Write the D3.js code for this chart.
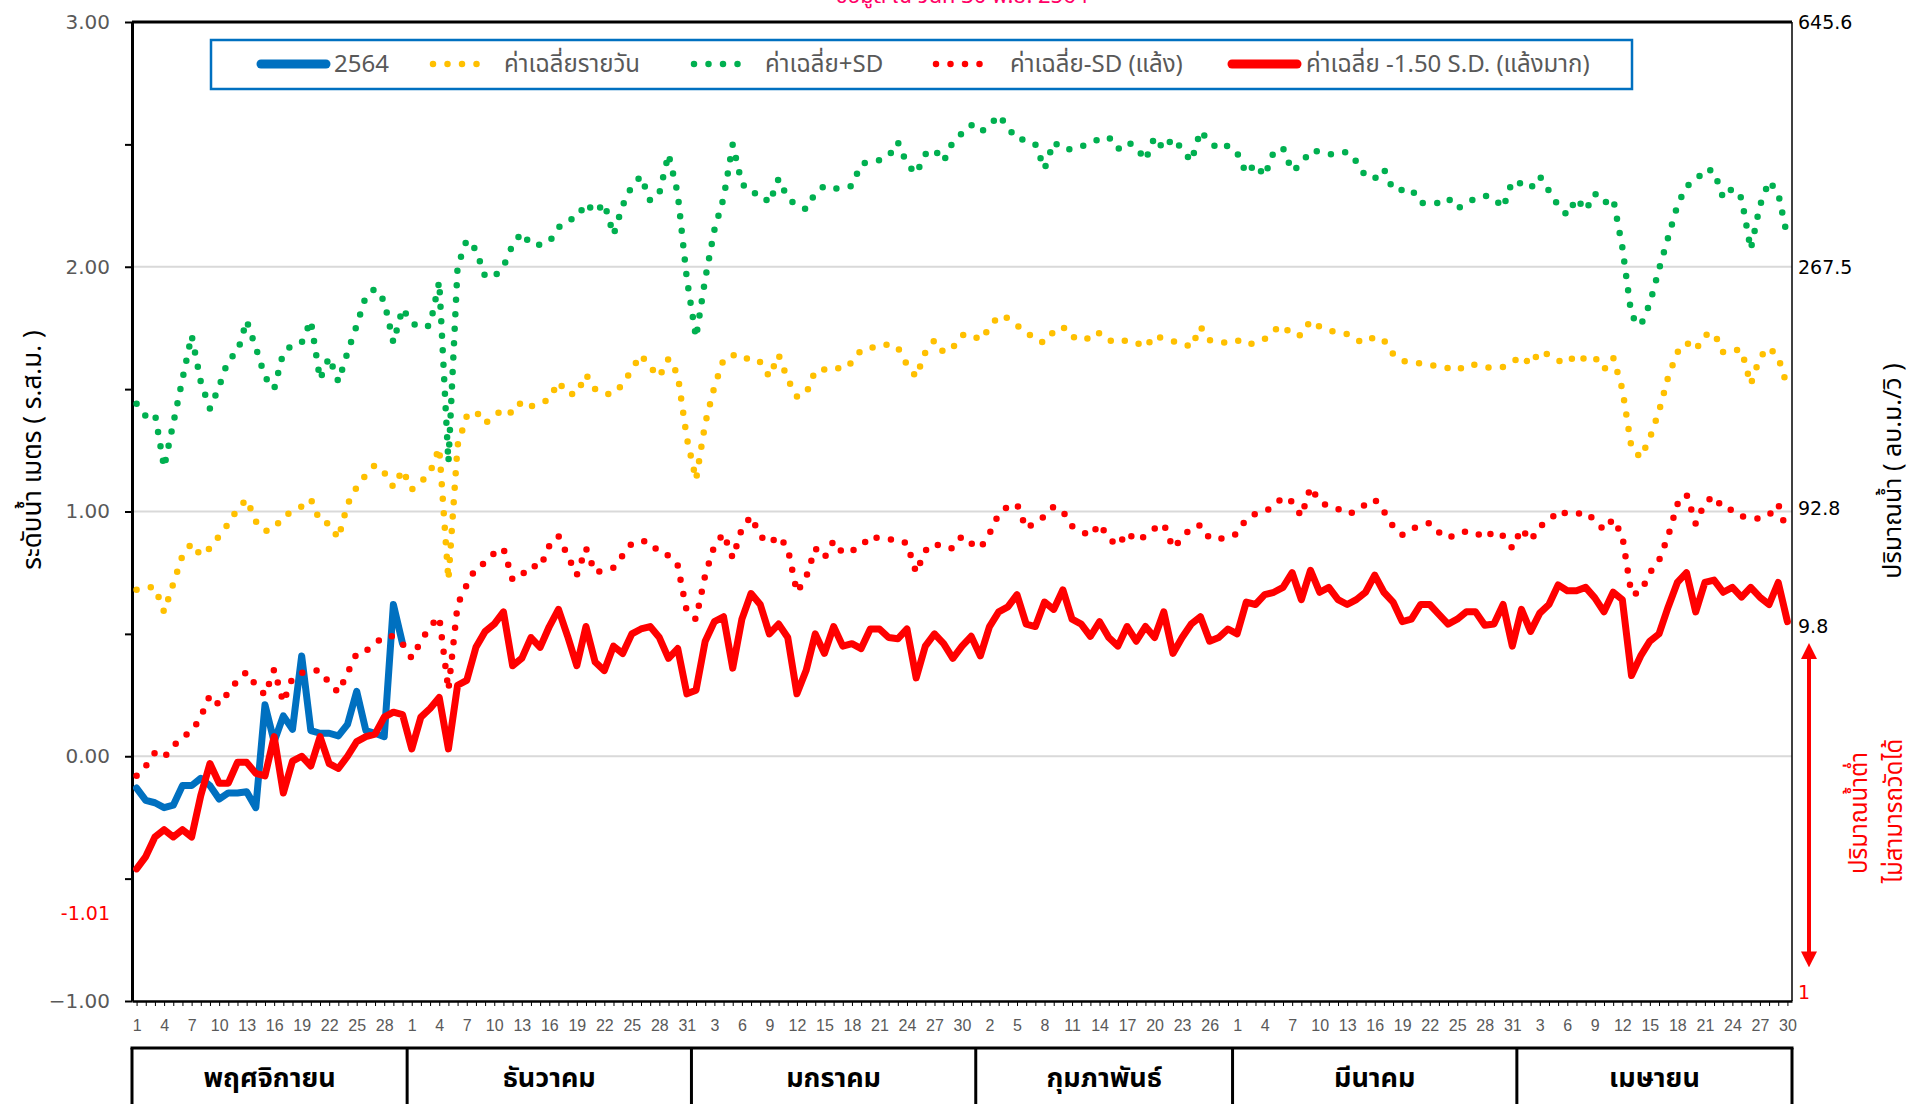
<!DOCTYPE html>
<html>
<head>
<meta charset="utf-8">
<script src="https://cdn.jsdelivr.net/npm/d3@7"></script>
<style>
  body { margin: 0; background: #fff; }
  svg { display: block; font-family: "Noto Sans Thai", "Tahoma", "DejaVu Sans", sans-serif; }
</style>
</head>
<body>
<svg width="1917" height="1104"></svg>
<script>
"use strict";

// ---- data ----
const monthNames = ["พฤศจิกายน", "ธันวาคม", "มกราคม", "กุมภาพันธ์", "มีนาคม", "เมษายน"];
const monthLengths = [30, 31, 31, 28, 31, 30];

// 2564 observed (Nov only)
const obs2564 = [-0.13, -0.18, -0.19, -0.21, -0.20, -0.12, -0.12, -0.09, -0.12, -0.175,
    -0.15, -0.15, -0.145, -0.21, 0.21, 0.06, 0.165, 0.11, 0.41, 0.105,
    0.094, 0.094, 0.083, 0.13, 0.265, 0.105, 0.094, 0.08, 0.62, 0.46];

const meanDaily = [
    0.68, 0.69, 0.69, 0.59, 0.705, 0.82, 0.87, 0.82, 0.85, 0.90, 0.95, 1.01, 1.05, 0.96, 0.92, 0.93, 0.98, 1.00, 1.02, 1.05, 0.96, 0.95, 0.89, 1.03, 1.10, 1.15, 1.19, 1.16, 1.10, 1.17,
    1.09, 1.12, 1.16, 1.26, 0.72, 1.27, 1.39, 1.41, 1.36, 1.39, 1.42, 1.40, 1.45, 1.43, 1.44, 1.46, 1.53, 1.48, 1.48, 1.56, 1.50, 1.48, 1.48, 1.52, 1.58, 1.64, 1.59, 1.55, 1.625, 1.56, 1.30,
    1.13, 1.36, 1.51, 1.62, 1.64, 1.62, 1.63, 1.61, 1.55, 1.64, 1.54, 1.47, 1.48, 1.575, 1.58, 1.59, 1.58, 1.61, 1.66, 1.67, 1.67, 1.685, 1.67, 1.60, 1.55, 1.65, 1.70, 1.65, 1.67, 1.72, 1.725,
    1.70, 1.75, 1.80, 1.79, 1.76, 1.735, 1.70, 1.69, 1.735, 1.755, 1.71, 1.72, 1.70, 1.73, 1.70, 1.69, 1.70, 1.69, 1.67, 1.72, 1.705, 1.695, 1.69, 1.67, 1.755, 1.70, 1.69, 1.69,
    1.70, 1.68, 1.69, 1.705, 1.74, 1.76, 1.72, 1.72, 1.78, 1.755, 1.74, 1.73, 1.725, 1.70, 1.69, 1.715, 1.70, 1.644, 1.615, 1.61, 1.605, 1.60, 1.59, 1.586, 1.575, 1.60, 1.60, 1.59, 1.586, 1.59, 1.61,
    1.635, 1.60, 1.655, 1.64, 1.617, 1.606, 1.642, 1.62, 1.63, 1.58, 1.63, 1.50, 1.26, 1.22, 1.30, 1.41, 1.55, 1.65, 1.69, 1.66, 1.72, 1.73, 1.65, 1.66, 1.66, 1.52, 1.63, 1.67, 1.63, 1.51
];

const meanPlusSD = [
    1.44, 1.39, 1.40, 1.18, 1.36, 1.54, 1.72, 1.53, 1.42, 1.51, 1.62, 1.65, 1.78, 1.67, 1.55, 1.50, 1.65, 1.68, 1.69, 1.78, 1.54, 1.63, 1.53, 1.65, 1.76, 1.88, 1.91, 1.86, 1.69, 1.83,
    1.77, 1.75, 1.76, 1.94, 1.20, 2.00, 2.11, 2.07, 1.96, 1.96, 2.00, 2.09, 2.14, 2.09, 2.09, 2.10, 2.16, 2.19, 2.20, 2.26, 2.22, 2.26, 2.13, 2.25, 2.33, 2.37, 2.27, 2.30, 2.46, 2.30, 1.95,
    1.71, 1.95, 2.15, 2.28, 2.50, 2.34, 2.30, 2.30, 2.26, 2.36, 2.28, 2.25, 2.235, 2.30, 2.33, 2.32, 2.32, 2.33, 2.42, 2.43, 2.435, 2.45, 2.51, 2.42, 2.38, 2.46, 2.48, 2.43, 2.51, 2.545, 2.58,
    2.55, 2.575, 2.62, 2.57, 2.52, 2.52, 2.50, 2.40, 2.51, 2.48, 2.48, 2.49, 2.51, 2.52, 2.53, 2.48, 2.51, 2.49, 2.435, 2.53, 2.48, 2.525, 2.48, 2.43, 2.555, 2.51, 2.48, 2.495,
    2.465, 2.38, 2.42, 2.37, 2.47, 2.485, 2.39, 2.42, 2.475, 2.47, 2.46, 2.46, 2.47, 2.43, 2.37, 2.36, 2.40, 2.315, 2.313, 2.318, 2.26, 2.26, 2.26, 2.28, 2.237, 2.26, 2.28, 2.29, 2.28, 2.24, 2.35,
    2.34, 2.32, 2.37, 2.31, 2.25, 2.21, 2.28, 2.23, 2.30, 2.26, 2.28, 2.08, 1.80, 1.76, 1.85, 1.99, 2.12, 2.25, 2.33, 2.35, 2.40, 2.39, 2.28, 2.32, 2.28, 2.07, 2.25, 2.35, 2.30, 2.12
];

const meanMinusSD = [
    -0.08, -0.04, 0.015, -0.005, 0.04, 0.08, 0.10, 0.16, 0.25, 0.21, 0.26, 0.31, 0.345, 0.29, 0.25, 0.355, 0.22, 0.32, 0.34, 0.35, 0.35, 0.30, 0.26, 0.34, 0.42, 0.43, 0.46, 0.49, 0.49, 0.46,
    0.40, 0.47, 0.53, 0.57, 0.27, 0.62, 0.70, 0.77, 0.79, 0.83, 0.85, 0.72, 0.74, 0.78, 0.77, 0.86, 0.90, 0.82, 0.74, 0.85, 0.75, 0.76, 0.77, 0.82, 0.87, 0.88, 0.875, 0.83, 0.82, 0.78, 0.59,
    0.56, 0.74, 0.86, 0.91, 0.81, 0.93, 0.98, 0.90, 0.87, 0.90, 0.85, 0.67, 0.73, 0.85, 0.81, 0.88, 0.83, 0.84, 0.855, 0.90, 0.89, 0.886, 0.886, 0.87, 0.75, 0.84, 0.87, 0.85, 0.85, 0.90, 0.87,
    0.85, 0.91, 0.99, 1.02, 1.03, 0.93, 0.955, 0.98, 1.02, 1.00, 0.94, 0.92, 0.90, 0.95, 0.89, 0.86, 0.915, 0.88, 0.90, 0.93, 0.95, 0.85, 0.89, 0.935, 0.944, 0.89, 0.888, 0.893,
    0.91, 0.97, 0.99, 1.00, 1.02, 1.06, 1.04, 0.98, 1.10, 1.04, 1.02, 1.01, 0.99, 1.00, 1.03, 1.05, 1.00, 0.94, 0.904, 0.93, 0.94, 0.953, 0.915, 0.89, 0.91, 0.919, 0.915, 0.89, 0.92, 0.90, 0.85,
    0.93, 0.88, 0.94, 0.96, 1.004, 0.99, 0.99, 0.998, 0.964, 0.924, 0.97, 0.90, 0.66, 0.67, 0.75, 0.80, 0.90, 1.03, 1.07, 0.95, 1.036, 1.063, 1.01, 1.007, 0.98, 0.975, 0.97, 0.985, 1.03, 0.91
];

const meanMinus15SD = [
    -0.46, -0.41, -0.33, -0.30, -0.33, -0.30, -0.33, -0.16, -0.03, -0.11, -0.11, -0.025, -0.025, -0.07, -0.08, 0.08, -0.15, -0.02, 0.00, -0.04, 0.08, -0.03, -0.05, 0.00, 0.06, 0.08, 0.09, 0.16, 0.18, 0.17,
    0.03, 0.16, 0.195, 0.24, 0.03, 0.29, 0.31, 0.445, 0.51, 0.54, 0.59, 0.37, 0.40, 0.485, 0.445, 0.53, 0.60, 0.49, 0.37, 0.53, 0.385, 0.35, 0.45, 0.42, 0.50, 0.52, 0.53, 0.485, 0.40, 0.44, 0.255,
    0.27, 0.47, 0.55, 0.57, 0.36, 0.56, 0.665, 0.62, 0.50, 0.54, 0.485, 0.255, 0.35, 0.50, 0.42, 0.53, 0.45, 0.46, 0.44, 0.52, 0.52, 0.485, 0.48, 0.52, 0.32, 0.45, 0.50, 0.46, 0.40, 0.45, 0.49,
    0.41, 0.53, 0.59, 0.61, 0.66, 0.54, 0.53, 0.63, 0.60, 0.68, 0.56, 0.54, 0.49, 0.55, 0.485, 0.45, 0.53, 0.47, 0.53, 0.485, 0.59, 0.42, 0.485, 0.54, 0.57, 0.47, 0.485, 0.52,
    0.50, 0.63, 0.62, 0.66, 0.67, 0.69, 0.75, 0.64, 0.76, 0.67, 0.69, 0.64, 0.62, 0.64, 0.67, 0.74, 0.67, 0.63, 0.55, 0.56, 0.62, 0.62, 0.58, 0.54, 0.56, 0.59, 0.59, 0.535, 0.54, 0.62, 0.45,
    0.60, 0.51, 0.585, 0.62, 0.70, 0.676, 0.676, 0.69, 0.647, 0.59, 0.67, 0.64, 0.33, 0.41, 0.47, 0.50, 0.61, 0.71, 0.75, 0.59, 0.71, 0.72, 0.67, 0.69, 0.65, 0.69, 0.65, 0.62, 0.71, 0.55
];

const leftTicks = [-1, -0.5, 0, 0.5, 1, 1.5, 2, 2.5, 3];
const gridLevels = [0, 1, 2];
const rightLabels = ["645.6", "267.5", "92.8", "9.8", "1"];
const rightLevels = [3.0, 2.0, 1.013, 0.531, -0.964];
const lowLabel = "-1.01";
const lowLevel = -0.64;
const legendNames = ["2564", "ค่าเฉลี่ยรายวัน", "ค่าเฉลี่ย+SD", "ค่าเฉลี่ย-SD (แล้ง)", "ค่าเฉลี่ย -1.50 S.D. (แล้งมาก)"];

// ---- layout ----
const plotLeft = 132, plotRight = 1792, plotTop = 22, plotBottom = 1001;
const tableTop = 1048;
const legendTextX = [334, 504, 765, 1010, 1306];
const legendSampleX = [261, 433, 694, 936, 1232];

const dayLabels = [];
monthLengths.forEach(n => { for (let d = 1; d <= n; d++) dayLabels.push(d); });

const svg = d3.select("svg");

const x = d3.scalePoint()
    .domain(d3.range(dayLabels.length))
    .range([plotLeft, plotRight])
    .padding(0.5);
const y = d3.scaleLinear().domain([-1, 3]).range([plotBottom, plotTop]);

// grid lines
svg.append("g").selectAll("line")
    .data(gridLevels)
    .join("line")
    .attr("x1", plotLeft).attr("x2", plotRight)
    .attr("y1", d => y(d)).attr("y2", d => y(d))
    .attr("stroke", "#d9d9d9").attr("stroke-width", 2);

// frame top + right
svg.append("line")
    .attr("x1", plotLeft).attr("x2", plotRight)
    .attr("y1", y(3)).attr("y2", y(3))
    .attr("stroke", "#000").attr("stroke-width", 3);
svg.append("line")
    .attr("x1", plotRight).attr("x2", plotRight)
    .attr("y1", y(3)).attr("y2", y(-1))
    .attr("stroke", "#000").attr("stroke-width", 1.5);

// left axis
const gy = svg.append("g")
    .attr("transform", `translate(${plotLeft},0)`)
    .call(d3.axisLeft(y)
        .tickValues(leftTicks)
        .tickSize(7)
        .tickSizeOuter(0)
        .tickPadding(15)
        .tickFormat(d => Number.isInteger(d) ? d3.format(".2f")(d) : ""));
gy.attr("font-family", "DejaVu Sans").attr("font-size", 20);
gy.select(".domain").attr("stroke", "#000").attr("stroke-width", 3);
gy.selectAll(".tick line").attr("stroke", "#000").attr("stroke-width", 2);
gy.selectAll(".tick text").attr("fill", "#595959");

svg.append("text")
    .attr("x", 110).attr("y", y(lowLevel))
    .attr("text-anchor", "end").attr("dominant-baseline", "central")
    .attr("font-family", "DejaVu Sans").attr("font-size", 19)
    .attr("fill", "#ff0000")
    .text(lowLabel);

// bottom axis
const gx = svg.append("g")
    .attr("transform", `translate(0,${plotBottom})`)
    .call(d3.axisBottom(x)
        .tickSize(5)
        .tickSizeOuter(0)
        .tickPadding(14)
        .tickFormat(i => i % 3 === 0 ? dayLabels[i] : ""));
gx.attr("font-family", "'Liberation Sans Narrow', 'Liberation Sans', sans-serif").attr("font-size", 16);
gx.select(".domain").attr("stroke", "#000").attr("stroke-width", 2.5);
gx.selectAll(".tick line").attr("stroke", "#000").attr("stroke-width", 1);
gx.selectAll(".tick text").attr("fill", "#595959");

// right side labels
svg.append("g").selectAll("text")
    .data(rightLabels)
    .join("text")
    .attr("x", plotRight + 6)
    .attr("y", (d, i) => y(rightLevels[i]))
    .attr("dominant-baseline", "central")
    .attr("font-family", "DejaVu Sans").attr("font-size", 19)
    .attr("fill", (d, i) => i === rightLabels.length - 1 ? "#ff0000" : "#000")
    .text(d => d);

// series
const line = d3.line().x((d, i) => x(i)).y(d => y(d));
const series = [
    { values: obs2564, color: "#0070C0", dotted: false },
    { values: meanDaily, color: "#FFC000", dotted: true },
    { values: meanPlusSD, color: "#00B050", dotted: true },
    { values: meanMinusSD, color: "#FF0000", dotted: true },
    { values: meanMinus15SD, color: "#FF0000", dotted: false }
];

svg.append("g").selectAll("path")
    .data(series)
    .join("path")
    .attr("d", s => line(s.values))
    .attr("fill", "none")
    .attr("stroke", s => s.color)
    .attr("stroke-width", s => s.dotted ? 6.5 : 7)
    .attr("stroke-linecap", "round")
    .attr("stroke-linejoin", "round")
    .attr("stroke-dasharray", s => s.dotted ? "0 14.5" : null);

// legend
svg.append("rect")
    .attr("x", 211).attr("y", 40).attr("width", 1421).attr("height", 49)
    .attr("fill", "#fff").attr("stroke", "#0070C0").attr("stroke-width", 2.5);
const lg = svg.append("g").selectAll("g")
    .data(series)
    .join("g");
lg.append("line")
    .attr("x1", (s, i) => legendSampleX[i])
    .attr("x2", (s, i) => legendSampleX[i] + (s.dotted ? 58 : 65))
    .attr("y1", 64).attr("y2", 64)
    .attr("stroke", s => s.color)
    .attr("stroke-width", s => s.dotted ? 6.5 : 9)
    .attr("stroke-linecap", "round")
    .attr("stroke-dasharray", s => s.dotted ? "0 14.5" : null);
lg.append("text")
    .attr("x", (s, i) => legendTextX[i])
    .attr("y", 65)
    .attr("dominant-baseline", "central")
    .attr("font-size", 24)
    .attr("fill", "#595959")
    .text((s, i) => legendNames[i]);

// month table under the axis
const bounds = d3.cumsum([0].concat(monthLengths));
const bx = b => plotLeft + b * x.step();
svg.append("line")
    .attr("x1", plotLeft - 1.5).attr("x2", plotRight + 1.5)
    .attr("y1", tableTop).attr("y2", tableTop)
    .attr("stroke", "#000").attr("stroke-width", 3);
svg.append("g").selectAll("line")
    .data(Array.from(bounds))
    .join("line")
    .attr("x1", d => bx(d)).attr("x2", d => bx(d))
    .attr("y1", tableTop).attr("y2", 1104)
    .attr("stroke", "#000").attr("stroke-width", 3);
svg.append("g").selectAll("text")
    .data(monthNames)
    .join("text")
    .attr("x", (d, i) => (bx(bounds[i]) + bx(bounds[i + 1])) / 2)
    .attr("y", 1087)
    .attr("text-anchor", "middle")
    .attr("font-size", 27).attr("font-weight", "bold")
    .attr("fill", "#000")
    .text(d => d);

// axis titles
svg.append("text")
    .attr("transform", "translate(33,450) rotate(-90)")
    .attr("text-anchor", "middle").attr("dominant-baseline", "central")
    .attr("font-size", 26).attr("fill", "#000")
    .text("ระดับน้ำ เมตร ( ร.ส.ม. )");
svg.append("text")
    .attr("transform", "translate(1893,471) rotate(-90)")
    .attr("text-anchor", "middle").attr("dominant-baseline", "central")
    .attr("font-size", 25).attr("fill", "#000")
    .text("ปริมาณน้ำ ( ลบ.ม./วิ )");

// low-flow note
svg.append("defs").append("marker")
    .attr("id", "head")
    .attr("viewBox", "0 0 10 10")
    .attr("refX", 5).attr("refY", 5)
    .attr("markerWidth", 4).attr("markerHeight", 4)
    .attr("orient", "auto-start-reverse")
    .append("path").attr("d", "M0,0 L10,5 L0,10 Z").attr("fill", "#ff0000");
svg.append("line")
    .attr("x1", 1809).attr("x2", 1809)
    .attr("y1", y(0.43)).attr("y2", y(-0.83))
    .attr("stroke", "#ff0000").attr("stroke-width", 4)
    .attr("marker-start", "url(#head)").attr("marker-end", "url(#head)");
svg.append("text")
    .attr("transform", "translate(1860,813) rotate(-90)")
    .attr("text-anchor", "middle").attr("dominant-baseline", "central")
    .attr("font-size", 24).attr("fill", "#ff0000")
    .text("ปริมาณน้ำต่ำ");
svg.append("text")
    .attr("transform", "translate(1895,811) rotate(-90)")
    .attr("text-anchor", "middle").attr("dominant-baseline", "central")
    .attr("font-size", 24).attr("fill", "#ff0000")
    .text("ไม่สามารถวัดได้");

// title (mostly above the visible area, as in the source)
svg.append("text")
    .attr("x", 962).attr("y", 3)
    .attr("text-anchor", "middle")
    .attr("font-size", 22).attr("fill", "#ff0066")
    .text("ข้อมูล ณ วันที่ 30 พ.ย. 2564");
</script>
</body>
</html>
